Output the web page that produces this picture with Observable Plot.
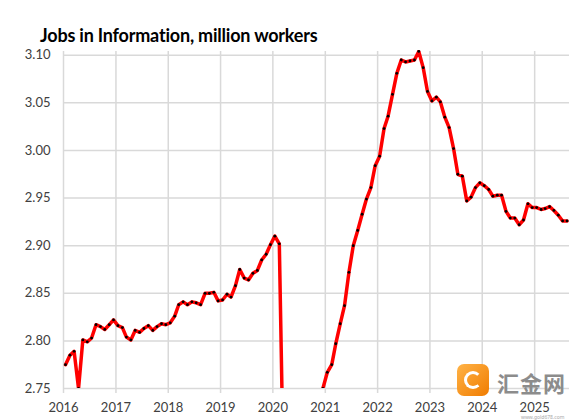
<!DOCTYPE html>
<html><head><meta charset="utf-8">
<script src="https://cdn.jsdelivr.net/npm/d3@7"></script>
<script src="https://cdn.jsdelivr.net/npm/@observablehq/plot@0.6"></script>
<style>
body{margin:0;background:#fff;width:576px;height:420px;overflow:hidden;position:relative;font-family:Lato,sans-serif}
#title{position:absolute;left:40px;top:24px;font:bold 18px Lato;letter-spacing:-0.2px;color:#000;white-space:nowrap}
#chart{position:absolute;left:0;top:46px}
#wm{position:absolute;left:457px;top:364px;width:119px;height:56px}
#logo{position:absolute;left:0;top:0;width:32px;height:32px;border-radius:7px;background:linear-gradient(135deg,#ffb347,#f07c00)}
#logo div{position:absolute;left:7px;top:7px;width:12px;height:12px;border:3px solid #fff;border-radius:50%;border-right-color:transparent}
#wmt{position:absolute;left:40px;top:2px;font:bold 22px "Noto Sans CJK SC";color:#8c8c8c;letter-spacing:1px}
#wmu{position:absolute;left:64px;top:51px;font:5px "Noto Sans";line-height:5px;color:#a8a8a8}
</style></head><body>
<div id="title">Jobs in Information, million workers</div>
<div id="chart"></div>
<div id="wm"><div id="logo"><div></div></div><div id="wmt">汇金网</div><div id="wmu">www.gold678.com</div></div>
<script>
// Monthly values (million workers), Jan..Dec of each year
const v2016 = [2.775, 2.785, 2.789, 2.750, 2.801, 2.799, 2.803, 2.817, 2.815, 2.812, 2.817, 2.822];
const v2017 = [2.816, 2.814, 2.804, 2.801, 2.811, 2.809, 2.813, 2.816, 2.811, 2.815, 2.818, 2.817];
const v2018 = [2.819, 2.826, 2.838, 2.841, 2.838, 2.841, 2.840, 2.838, 2.850, 2.850, 2.851, 2.842];
const v2019 = [2.843, 2.849, 2.846, 2.858, 2.875, 2.866, 2.864, 2.871, 2.874, 2.885, 2.891, 2.901];
const v2020 = [2.910, 2.902, 2.660, 2.580, 2.600, 2.620, 2.640, 2.660, 2.680, 2.700, 2.720, 2.750];
const v2021 = [2.767, 2.775, 2.797, 2.818, 2.837, 2.872, 2.900, 2.916, 2.933, 2.949, 2.961, 2.984];
const v2022 = [2.994, 3.023, 3.036, 3.059, 3.081, 3.095, 3.093, 3.094, 3.095, 3.104, 3.087, 3.062];
const v2023 = [3.052, 3.056, 3.051, 3.035, 3.024, 3.002, 2.975, 2.973, 2.947, 2.951, 2.961, 2.966];
const v2024 = [2.963, 2.959, 2.952, 2.953, 2.953, 2.936, 2.929, 2.929, 2.922, 2.927, 2.944, 2.940];
const v2025 = [2.940, 2.938, 2.939, 2.941, 2.937, 2.932, 2.926, 2.926];

const years = [2016, 2017, 2018, 2019, 2020, 2021, 2022, 2023, 2024, 2025];
const yearValues = [v2016, v2017, v2018, v2019, v2020, v2021, v2022, v2023, v2024, v2025];
const yTicks = [2.75, 2.80, 2.85, 2.90, 2.95, 3.00, 3.05, 3.10];
const xStart = new Date(Date.UTC(2016, 0, 1));
const xEnd = new Date(Date.UTC(2025, 8, 1));

const data = [];
years.forEach((yr, k) => yearValues[k].forEach((v, i) => data.push({date: new Date(Date.UTC(yr, i, 15)), value: v})));
const yearTicks = years.map(y => new Date(Date.UTC(y, 0, 1)));

const chart = Plot.plot({
  width: 576, height: 372,
  marginTop: 4, marginRight: 7, marginBottom: 30, marginLeft: 63,
  style: {fontFamily: "Lato", fontSize: "13px", color: "#404040", background: "white"},
  x: {type: "utc", domain: [xStart, xEnd], ticks: yearTicks, tickFormat: d => String(d.getUTCFullYear()), tickSize: 0, tickPadding: 14, label: null},
  y: {domain: [2.75, 3.105], ticks: yTicks, tickFormat: d => d.toFixed(2), tickSize: 0, tickPadding: 13, label: null},
  marks: [
    Plot.ruleY(yTicks, {stroke: "#d9d9d9", strokeWidth: 1.5}),
    Plot.ruleX(yearTicks, {stroke: "#d9d9d9", strokeWidth: 1.5, insetTop: 1, insetBottom: -5}),
    Plot.line(data, {x: "date", y: "value", stroke: "#ff0000", strokeWidth: 3.5, strokeLinejoin: "round", clip: "frame"}),
    Plot.dot(data, {x: "date", y: "value", r: 1.4, fill: "black", clip: "frame"})
  ]
});
document.getElementById("chart").appendChild(chart);
</script>
</body></html>
